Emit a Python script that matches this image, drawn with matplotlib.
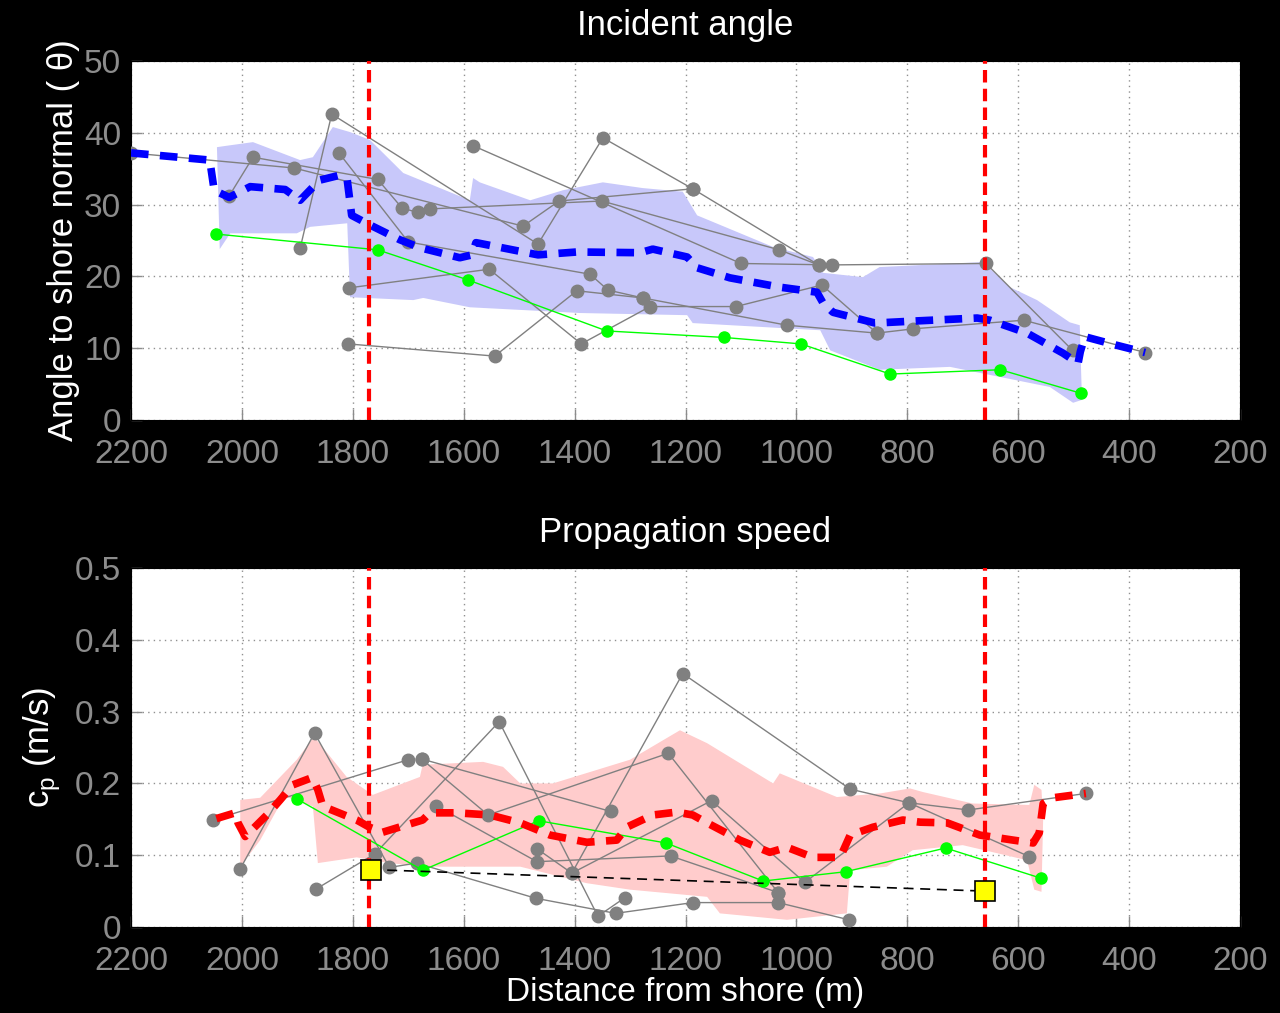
import numpy as np
import matplotlib
matplotlib.use("Agg")
import matplotlib.pyplot as plt

plt.rcParams['font.family'] = ['Liberation Sans', 'DejaVu Sans']

# ---------------- incident angle (top) ----------------
angle_tracks = [
    [(2200, 37.2), (1906, 35.1), (1493, 27.0), (1428, 30.5), (1187, 32.2)],
    [(1895, 23.9), (1838, 42.6), (1466, 24.5), (1349, 39.3), (1187, 32.2), (960, 21.6)],
    [(2023, 31.2), (1980, 36.6), (1755, 33.5), (1711, 29.5), (1682, 28.9)],
    [(1661, 29.4), (1351, 30.5), (1031, 23.7), (960, 21.6)],
    [(1583, 38.2), (1100, 21.8), (936, 21.6), (658, 21.8), (502, 9.7)],
    [(1825, 37.2), (1700, 24.8), (1372, 20.3), (1340, 18.1), (1277, 17.0)],
    [(1807, 18.4), (1554, 21.0), (1388, 10.6), (1264, 15.8), (1109, 15.8), (954, 18.8),
     (855, 12.1), (789, 12.7), (590, 13.9), (371, 9.4)],
    [(1809, 10.6), (1544, 8.9), (1396, 18.0), (1277, 17.0), (1017, 13.2), (855, 12.1)],
]
angle_green_x = [2047, 1755, 1592, 1342, 1131, 992, 831, 632, 486]
angle_green_y = [25.9, 23.7, 19.5, 12.4, 11.5, 10.6, 6.4, 7.0, 3.7]

angle_mean_x = [2200, 2058, 2050, 2023, 1985, 1922, 1895, 1860, 1823, 1810, 1802, 1770, 1715,
                1679, 1607, 1585, 1578, 1571, 1466, 1396, 1282, 1259, 1197, 1179, 1120, 1030,
                963, 952, 934, 858, 783, 674, 651, 584, 519, 492, 488, 480, 422, 371]
angle_mean_y = [37.2, 36.2, 32.0, 31.0, 32.5, 32.1, 30.6, 33.4, 34.1, 33.4, 28.5, 27.2, 25.1,
                24.0, 22.6, 23.0, 24.7, 24.6, 23.0, 23.4, 23.3, 23.8, 22.7, 21.2, 19.8, 18.5,
                17.8, 16.3, 15.0, 13.5, 13.8, 14.2, 13.9, 12.1, 9.3, 7.9, 9.5, 11.6, 10.4, 9.4]

angle_hi_x = [2045, 2027, 1980, 1895, 1872, 1836, 1805, 1769, 1709, 1589, 1583, 1571, 1480,
              1421, 1349, 1277, 1205, 1179, 1042, 970, 952, 880, 850, 664, 615, 566, 507, 489, 485]
angle_hi_y = [38.0, 38.2, 38.7, 36.2, 36.6, 40.8, 40.1, 39.0, 34.4, 30.6, 33.7, 33.1, 30.6,
              32.0, 33.1, 32.3, 31.8, 28.5, 24.1, 22.7, 20.5, 19.9, 21.3, 22.0, 18.5, 16.7, 13.6, 13.2, 2.8]
angle_lo_x = [2045, 2040, 2021, 1901, 1877, 1810, 1805, 1691, 1673, 1589, 1390, 1197, 1187,
              957, 939, 850, 723, 543, 501, 485]
angle_lo_y = [38.0, 23.8, 26.0, 26.0, 26.9, 27.4, 17.1, 16.7, 17.0, 15.7, 14.9, 14.6, 13.5,
              12.5, 9.7, 7.0, 7.4, 4.6, 2.4, 2.8]

# ---------------- propagation speed (bottom) ----------------
speed_tracks = [
    [(2003, 0.081), (1869, 0.270), (1734, 0.083), (1685, 0.089), (1470, 0.040), (1326, 0.019),
     (1187, 0.034), (1033, 0.034), (905, 0.010)],
    [(1866, 0.053), (1760, 0.102), (1536, 0.286), (1358, 0.015), (1309, 0.041)],
    [(2053, 0.149), (1700, 0.233)],
    [(1676, 0.234), (1335, 0.161)],
    [(1676, 0.234), (1556, 0.156), (1231, 0.242), (1033, 0.048)],
    [(1650, 0.169), (1468, 0.091), (1227, 0.099), (1033, 0.048)],
    [(1468, 0.109), (1405, 0.075), (1153, 0.176), (985, 0.062), (797, 0.173), (580, 0.098)],
    [(1405, 0.075), (1205, 0.353), (903, 0.192), (797, 0.173), (690, 0.163), (478, 0.186)],
]
speed_green_x = [1900, 1674, 1465, 1235, 1060, 911, 731, 559]
speed_green_y = [0.178, 0.079, 0.148, 0.117, 0.064, 0.077, 0.110, 0.068]

speed_mean_x = [2046, 2012, 2007, 1994, 1955, 1931, 1908, 1877, 1872, 1863, 1854, 1793, 1770,
                1746, 1674, 1661, 1612, 1553, 1498, 1444, 1378, 1324, 1306, 1259, 1216, 1187,
                1161, 1102, 1048, 1017, 970, 921, 903, 862, 808, 777, 728, 669, 609, 573, 562,
                555, 537, 478]
speed_mean_y = [0.151, 0.159, 0.145, 0.126, 0.156, 0.177, 0.198, 0.207, 0.207, 0.191, 0.168,
                0.149, 0.139, 0.132, 0.149, 0.159, 0.159, 0.156, 0.145, 0.128, 0.118, 0.121,
                0.139, 0.156, 0.160, 0.156, 0.145, 0.121, 0.104, 0.111, 0.097, 0.097, 0.128,
                0.139, 0.149, 0.146, 0.145, 0.128, 0.121, 0.117, 0.131, 0.172, 0.180, 0.186]

speed_hi_x = [2003, 1967, 1901, 1870, 1811, 1764, 1679, 1674, 1565, 1529, 1498, 1439, 1300,
              1210, 1161, 1042, 1030, 927, 849, 795, 772, 682, 580, 571, 558, 555]
speed_hi_y = [0.177, 0.180, 0.233, 0.265, 0.209, 0.184, 0.209, 0.226, 0.230, 0.223, 0.200,
              0.200, 0.233, 0.274, 0.256, 0.200, 0.214, 0.181, 0.186, 0.193, 0.188, 0.172,
              0.170, 0.198, 0.191, 0.150]
speed_lo_x = [2003, 1967, 1937, 1919, 1872, 1863, 1793, 1733, 1674, 1498, 1378, 1300, 1161,
              1138, 1017, 909, 903, 837, 790, 700, 584, 571, 558, 555]
speed_lo_y = [0.084, 0.121, 0.163, 0.181, 0.168, 0.089, 0.097, 0.089, 0.084, 0.084, 0.061,
              0.052, 0.042, 0.019, 0.010, 0.019, 0.079, 0.084, 0.107, 0.114, 0.093, 0.052,
              0.049, 0.150]

square_x = [1768, 660]
square_y = [0.080, 0.050]

vlines_x = [1770, 660]

x_ticks = list(range(2200, 199, -200))
angle_ticks = [0, 10, 20, 30, 40, 50]
speed_ticks = [0, 0.1, 0.2, 0.3, 0.4, 0.5]

GRAY = '#808080'
TICKC = '#8c8c8c'

fig = plt.figure(figsize=(12.8, 10.13), dpi=100, facecolor='black')
ax1 = fig.add_axes([131 / 1280, 1 - 420 / 1013, 1109 / 1280, 359 / 1013])
ax2 = fig.add_axes([131 / 1280, 1 - 927 / 1013, 1109 / 1280, 359 / 1013])


def style(ax, yt, ylim):
    ax.set_facecolor('white')
    ax.set_xlim(2200, 200)
    ax.set_ylim(*ylim)
    ax.set_xticks(x_ticks)
    ax.set_yticks(yt)
    ax.grid(True, color='#909090', linestyle=(0, (1, 3)), linewidth=1)
    ax.tick_params(direction='in', length=8, width=1, color=TICKC, labelcolor=TICKC,
                   labelsize=24)
    ax.tick_params(axis='x', pad=14)
    ax.tick_params(axis='y', pad=7)
    for s in ax.spines.values():
        s.set_color('black')
    ax.set_axisbelow(True)


# top panel
style(ax1, angle_ticks, (0, 50))
ax1.fill(angle_hi_x + angle_lo_x[::-1], angle_hi_y + angle_lo_y[::-1],
         color='#c8c8fa', lw=0, zorder=1)
for tr in angle_tracks:
    xs, ys = zip(*tr)
    ax1.plot(xs, ys, '-o', color=GRAY, lw=1, ms=9, mec=GRAY, zorder=3)
ax1.plot(angle_green_x, angle_green_y, '-o', color='#00ff00', lw=1, ms=8, zorder=4)
ax1.plot(angle_mean_x, angle_mean_y, color='#0000ff', lw=5.5, dashes=(2.3, 1.5), zorder=5)
for v in vlines_x:
    ax1.axvline(v, color='#ff0000', lw=3, dashes=(3, 1.5), zorder=6)
ax1.set_yticklabels([str(t) for t in angle_ticks])
ax1.set_ylabel('Angle to shore normal ( \u03b8)', color='white', fontsize=25, labelpad=3)
ax1.set_title('Incident angle', color='white', fontsize=25, pad=19)

# bottom panel
style(ax2, speed_ticks, (0, 0.5))
ax2.fill(speed_hi_x + speed_lo_x[::-1], speed_hi_y + speed_lo_y[::-1],
         color='#ffcccc', lw=0, zorder=1)
for tr in speed_tracks:
    xs, ys = zip(*tr)
    ax2.plot(xs, ys, '-o', color=GRAY, lw=1, ms=9, mec=GRAY, zorder=3)
ax2.plot(speed_green_x, speed_green_y, '-o', color='#00ff00', lw=1, ms=8, zorder=4)
ax2.plot(square_x, square_y, '--', color='black', lw=1.2, dashes=(6, 4), zorder=4)
ax2.plot(speed_mean_x, speed_mean_y, color='#ff0000', lw=5.5, dashes=(2.3, 1.5), zorder=5)
for v in vlines_x:
    ax2.axvline(v, color='#ff0000', lw=3, dashes=(3, 1.5), zorder=6)
ax2.plot(square_x, square_y, 's', color='#ffff00', mec='black', mew=1.2, ms=14, zorder=7)
ax2.set_yticklabels(['0', '0.1', '0.2', '0.3', '0.4', '0.5'])
ax2.set_ylabel(r'c$_\mathregular{p}$ (m/s)', color='white', fontsize=25, labelpad=9)
ax2.set_title('Propagation speed', color='white', fontsize=25, pad=19)
ax2.set_xlabel('Distance from shore (m)', color='white', fontsize=24, labelpad=0)

fig.savefig('out.png', dpi=100, facecolor='black')
